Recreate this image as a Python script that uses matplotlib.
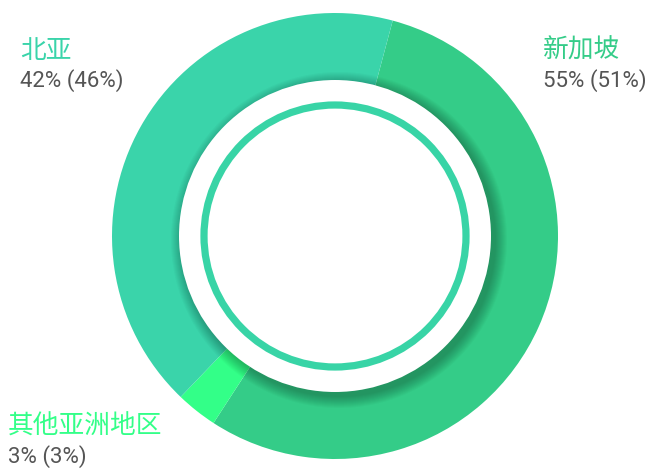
import matplotlib
matplotlib.use("Agg")
import matplotlib.pyplot as plt
from matplotlib.patches import Circle

# Dados do gráfico
regioes = ["新加坡", "其他亚洲地区", "北亚"]
valores = [55, 3, 42]
rotulos_pct = ["55% (51%)", "3% (3%)", "42% (46%)"]
cores = ["#34CC88", "#33FF88", "#3AD4AA"]

W, H = 649, 470
fig = plt.figure(figsize=(W / 100, H / 100), dpi=100)
ax = fig.add_axes([0, 0, 1, 1])

cx, cy = 335, H - 236
r_ext = 223
r_int = 156

ax.pie(valores, colors=cores, startangle=75, counterclock=False,
       center=(cx, cy), radius=r_ext, frame=True,
       wedgeprops=dict(width=r_ext - 140, linewidth=0))
ax.set_xlim(0, W)
ax.set_ylim(0, H)
ax.set_aspect("equal")
ax.axis("off")

# sombra suave do círculo branco
for i in range(12):
    ax.add_patch(Circle((cx + 4, cy - 4), r_int + 12 - i, color="black",
                        alpha=0.022, linewidth=0, zorder=3))
ax.add_patch(Circle((cx, cy), r_int, color="white", linewidth=0, zorder=4))
ax.add_patch(Circle((cx, cy), 131, fill=False, edgecolor="#38D4A6",
                    linewidth=5.2, zorder=5))

# rótulos
pos = {"北亚": (20, 38), "新加坡": (543, 38), "其他亚洲地区": (8, 414)}
cjk = ["Noto Sans CJK SC", "DejaVu Sans"]
num = ["Roboto", "DejaVu Sans"]
for nome, pct, cor in zip(regioes, rotulos_pct, cores):
    x, y = pos[nome]
    ax.text(x, H - y, nome, color=cor, fontsize=18.5, family=cjk,
            ha="left", va="top")
    ax.text(x, H - y - 31, pct, color="#555555", fontsize=16, family=num,
            ha="left", va="top")

fig.savefig("out.png", dpi=100)
